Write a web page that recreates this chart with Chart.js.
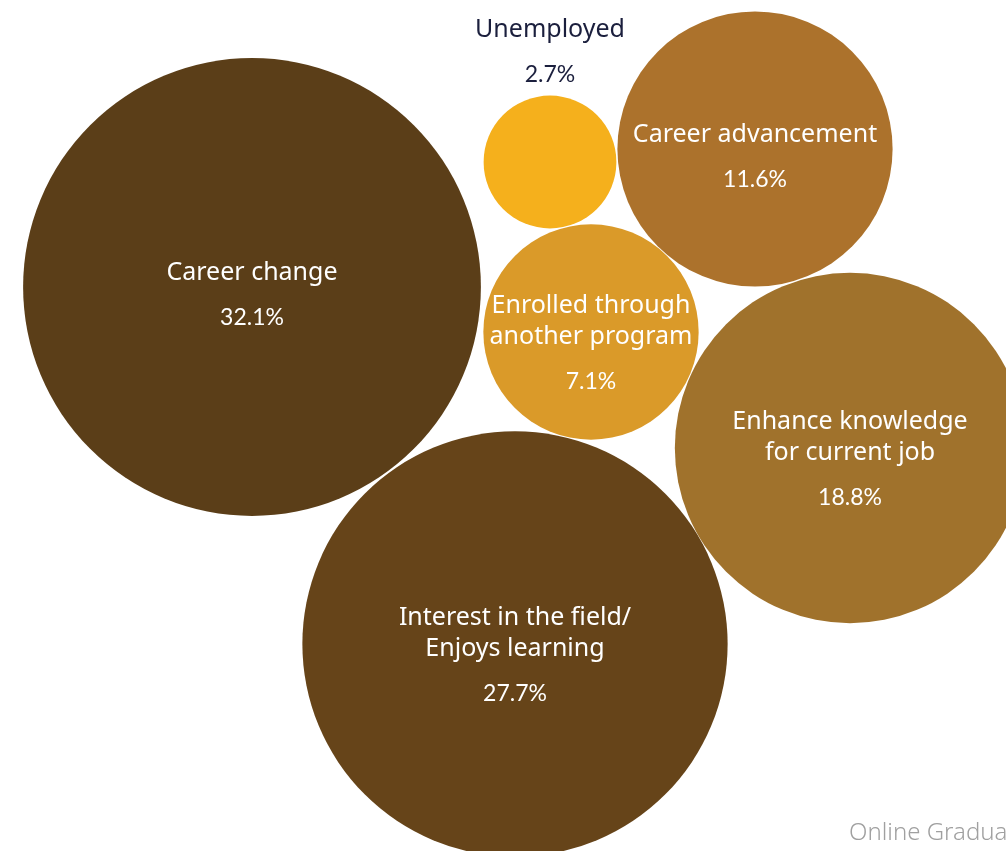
<!DOCTYPE html>
<html>
<head>
<meta charset="utf-8">
<script src="https://cdn.jsdelivr.net/npm/chart.js@4.4.1/dist/chart.umd.min.js"></script>
<style>
  html, body { margin: 0; padding: 0; background: #ffffff; }
  #wrap { position: relative; width: 1006px; height: 851px; overflow: hidden; }
  #source {
    position: absolute; left: 849px; top: 814px;
    font-family: "Noto Sans", sans-serif; font-weight: 300; font-size: 24px;
    color: #a0a0a0; white-space: nowrap;
  }
</style>
</head>
<body>
<div id="wrap">
  <canvas id="reasonsChart" width="1006" height="851"></canvas>
  <div id="source">Online Gradua</div>
</div>
<script>
// reasons for enrolling, share of respondents (%)
var reasons = [
  ["Career change"],
  ["Interest in the field/", "Enjoys learning"],
  ["Enhance knowledge", "for current job"],
  ["Career advancement"],
  ["Enrolled through", "another program"],
  ["Unemployed"]
];
var shares = [32.1, 27.7, 18.8, 11.6, 7.1, 2.7];

// packed layout: bubble centres on the hidden x/y scales
var bubbleX = [252, 515, 850, 755, 591, 550];
var bubbleY = [287, 644, 448, 149, 332, 162];

var colors = ["#5b3e18", "#664419", "#a0722c", "#ac722c", "#da9a29", "#f5b01c"];
var RADIUS_PER_ROOT = 40.4; // bubble area proportional to share

var points = shares.map(function (v, i) {
  return { x: bubbleX[i], y: bubbleY[i], r: RADIUS_PER_ROOT * Math.sqrt(v) };
});

// writes the category name and share on (or above, for small bubbles) each bubble
var bubbleLabels = {
  id: "bubbleLabels",
  afterDatasetsDraw: function (chart) {
    var ctx = chart.ctx;
    var meta = chart.getDatasetMeta(0);
    ctx.save();
    ctx.textAlign = "center";
    ctx.textBaseline = "middle";
    meta.data.forEach(function (el, i) {
      var lines = reasons[i];
      var r = el.options.radius;
      var pct = shares[i].toFixed(1) + "%";
      var lastLine, pctY, color;
      if (r < 80) {
        // too small, put the text above the bubble
        color = "#1b1f3d";
        pctY = el.y - r - 21;
        lastLine = pctY - 45;
      } else {
        color = "#ffffff";
        lastLine = el.y + (lines.length > 1 ? 5 : -14);
        pctY = lastLine + 45;
      }
      ctx.fillStyle = color;
      ctx.font = "400 25px 'Noto Sans', sans-serif";
      for (var k = 0; k < lines.length; k++) {
        var y = lastLine - (lines.length - 1 - k) * 31;
        ctx.fillText(lines[k], el.x, y);
      }
      ctx.font = "400 23px Lato, sans-serif";
      ctx.fillText(pct, el.x, pctY);
    });
    ctx.restore();
  }
};

var chart = new Chart(document.getElementById("reasonsChart").getContext("2d"), {
  type: "bubble",
  data: {
    datasets: [{
      data: points,
      backgroundColor: colors,
      borderWidth: 0,
      hoverRadius: 0,
      clip: false
    }]
  },
  options: {
    responsive: false,
    animation: false,
    events: [],
    layout: { padding: 0, autoPadding: false },
    plugins: { legend: { display: false }, tooltip: { enabled: false } },
    scales: {
      x: { type: "linear", min: 0, max: 1006, display: false },
      y: { type: "linear", min: 0, max: 851, reverse: true, display: false }
    }
  },
  plugins: [bubbleLabels]
});
</script>
</body>
</html>
